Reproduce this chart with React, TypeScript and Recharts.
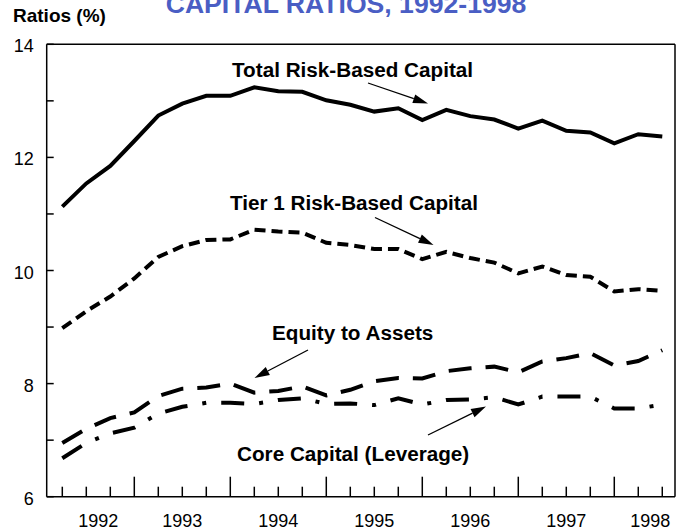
import { LineChart, Line, XAxis, YAxis, ReferenceLine } from 'recharts';

// 1992 Q1 .. 1998 Q2, one value per quarter
const years = ['1992', '1993', '1994', '1995', '1996', '1997', '1998'];
const quarters = years.flatMap((y) => ['Q1', 'Q2', 'Q3', 'Q4'].map((q) => `${y} ${q}`)).slice(0, 26);

const totalRiskBased = [
    11.13, 11.54, 11.85, 12.29, 12.74, 12.95, 13.09, 13.09, 13.24, 13.17, 13.16, 13.01, 12.93,
    12.81, 12.87, 12.66, 12.84, 12.73, 12.67, 12.51, 12.65, 12.47, 12.44, 12.25, 12.41, 12.37,
];
const tier1RiskBased = [
    8.98, 9.28, 9.54, 9.86, 10.24, 10.43, 10.54, 10.55, 10.72, 10.69, 10.67, 10.49, 10.45,
    10.38, 10.38, 10.2, 10.33, 10.22, 10.14, 9.95, 10.07, 9.92, 9.89, 9.63, 9.67, 9.64,
];
const equityToAssets = [
    6.95, 7.2, 7.39, 7.49, 7.78, 7.91, 7.93, 8.0, 7.84, 7.87, 7.95, 7.79, 7.89,
    8.04, 8.1, 8.09, 8.22, 8.27, 8.3, 8.2, 8.39, 8.45, 8.54, 8.32, 8.4, 8.59,
];
const coreCapital = [
    6.68, 6.95, 7.12, 7.22, 7.47, 7.59, 7.66, 7.66, 7.64, 7.71, 7.74, 7.64, 7.65,
    7.62, 7.74, 7.63, 7.71, 7.72, 7.76, 7.63, 7.77, 7.77, 7.77, 7.56, 7.56, 7.63,
];

const yTicks = [6, 7, 8, 9, 10, 11, 12, 13, 14];
// where each year label sits, in quarter-index units
const yearLabelAt = [1.5, 5, 9, 13, 17, 21, 24.5];

const X_MIN = -0.65;
const X_MAX = 25.53;
const FONT = '"Liberation Sans", Arial, Helvetica, sans-serif';

const data = quarters.map((q, i) => ({
    x: i,
    quarter: q,
    total: totalRiskBased[i],
    tier1: tier1RiskBased[i],
    equity: equityToAssets[i],
    core: coreCapital[i],
}));

const xTicks = [...quarters.map((_, i) => i), 1.5, 24.5].sort((a, b) => a - b);

const XTick = (props: any) => {
    const { x, y, payload } = props;
    const v = payload.value as number;
    const labelIdx = yearLabelAt.indexOf(v);
    return (
        <g>
            {Number.isInteger(v) && (
                <line x1={x} x2={x} y1={y} y2={y - (v % 4 === 3 ? 20 : 10)} stroke="#000" strokeWidth={1.5} />
            )}
            {labelIdx >= 0 && (
                <text x={x} y={y + 30} textAnchor="middle" fontSize={18} fontFamily={FONT} fill="#000">
                    {years[labelIdx]}
                </text>
            )}
        </g>
    );
};

const YTick = (props: any) => {
    const { x, y, payload } = props;
    const v = payload.value as number;
    return (
        <g>
            <line x1={x} x2={x + 7} y1={y} y2={y} stroke="#000" strokeWidth={1.5} />
            {v % 2 === 0 && (
                <text x={x - 13} y={y + 8} textAnchor="end" fontSize={18} fontFamily={FONT} fill="#000">
                    {v}
                </text>
            )}
        </g>
    );
};

const Arrow = ({ x1, y1, x2, y2 }: { x1: number; y1: number; x2: number; y2: number }) => {
    const a = Math.atan2(y2 - y1, x2 - x1);
    const len = 15;
    const w = 4.5;
    const bx = x2 - len * Math.cos(a);
    const by = y2 - len * Math.sin(a);
    const px = -Math.sin(a) * w;
    const py = Math.cos(a) * w;
    return (
        <g>
            <line x1={x1} y1={y1} x2={bx} y2={by} stroke="#000" strokeWidth={1.3} />
            <polygon points={`${x2},${y2} ${bx + px},${by + py} ${bx - px},${by - py}`} fill="#000" />
        </g>
    );
};

export default function App() {
    return (
        <div style={{ position: 'absolute', left: 0, top: 0, width: 682, height: 532, background: '#fff' }}>
            <LineChart
                width={682}
                height={532}
                data={data}
                margin={{ top: 44.3, right: 7, bottom: 5.3, left: 6.7 }}
            >
                <XAxis
                    dataKey="x"
                    type="number"
                    domain={[X_MIN, X_MAX]}
                    ticks={xTicks}
                    interval={0}
                    height={30}
                    tickSize={0}
                    tickMargin={0}
                    tickLine={false}
                    axisLine={{ stroke: '#000', strokeWidth: 1.5 }}
                    tick={<XTick />}
                    allowDataOverflow
                />
                <YAxis
                    type="number"
                    domain={[6, 14]}
                    ticks={yTicks}
                    interval={0}
                    width={40}
                    tickSize={0}
                    tickMargin={0}
                    tickLine={false}
                    axisLine={{ stroke: '#000', strokeWidth: 1.5 }}
                    tick={<YTick />}
                    allowDataOverflow
                />
                <ReferenceLine y={14} stroke="#000" strokeWidth={1.5} />
                <ReferenceLine x={X_MAX} stroke="#000" strokeWidth={1.5} />

                <Line dataKey="total" stroke="#000" strokeWidth={4} dot={false} isAnimationActive={false} strokeLinejoin="miter" />
                <Line dataKey="tier1" stroke="#000" strokeWidth={4} strokeDasharray="11 6" dot={false} isAnimationActive={false} />
                <Line dataKey="equity" stroke="#000" strokeWidth={4} strokeDasharray="23 14" dot={false} isAnimationActive={false} />
                <Line dataKey="core" stroke="#000" strokeWidth={4} strokeDasharray="23 15 4 15" dot={false} isAnimationActive={false} />
            </LineChart>

            {/* title and annotations */}
            <svg
                width={682}
                height={532}
                style={{ position: 'absolute', left: 0, top: 0, pointerEvents: 'none' }}
                fontFamily={FONT}
            >
                <text x={346} y={13} textAnchor="middle" fontSize={26.6} fontWeight="bold" fill="#4a5ec4">
                    CAPITAL RATIOS, 1992-1998
                </text>
                <text x={13} y={22} fontSize={19} fontWeight="bold" fill="#000">Ratios (%)</text>

                <text x={232} y={77} fontSize={20.7} fontWeight="bold" fill="#000">Total Risk-Based Capital</text>
                <Arrow x1={368} y1={83} x2={428} y2={103.5} />

                <text x={230} y={210} fontSize={20.7} fontWeight="bold" fill="#000">Tier 1 Risk-Based Capital</text>
                <Arrow x1={375} y1={217.5} x2={433.5} y2={245} />

                <text x={272} y={340} fontSize={20.7} fontWeight="bold" fill="#000">Equity to Assets</text>
                <Arrow x1={308} y1={350} x2={254.5} y2={378} />

                <text x={237} y={461} fontSize={20.7} fontWeight="bold" fill="#000">Core Capital (Leverage)</text>
                <Arrow x1={428} y1={435} x2={486} y2={406.5} />
            </svg>
        </div>
    );
}
